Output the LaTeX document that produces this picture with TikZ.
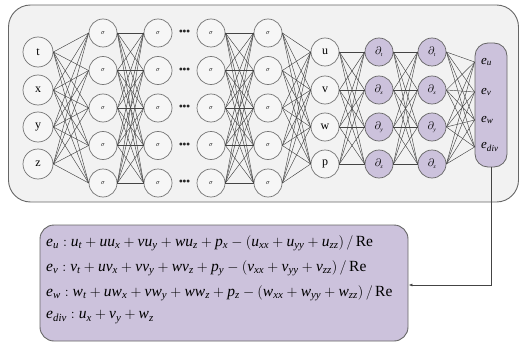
\documentclass[tikz,border=0pt]{standalone}
\usepackage{fontspec}
\setmainfont{Liberation Serif}
\usetikzlibrary{arrows.meta}
\definecolor{bgc}{HTML}{F2F2F2}
\definecolor{circf}{HTML}{F6F6F6}
\definecolor{purp}{HTML}{CCC2DC}
\definecolor{edgec}{HTML}{666666}
\definecolor{linec}{HTML}{444444}
\tikzset{
  neuron/.style={circle, draw=edgec!90, line width=0.7pt, fill=circf, minimum size=#1, inner sep=0pt},
  neuron/.default=28pt,
  pneuron/.style={circle, draw=edgec, line width=0.7pt, fill=purp, minimum size=28pt, inner sep=0pt},
  conn/.style={draw=linec, line width=0.45pt},
  sig/.style={font=\fontsize{6}{6}\selectfont},
  lab/.style={font=\fontsize{12}{12}\selectfont},
}
\begin{document}
\begin{tikzpicture}[x=1pt,y=-1pt]
\useasboundingbox (0,0) rectangle (521,342);
% outer box
\node[draw=edgec, line width=0.9pt, fill=bgc, rounded corners=22pt, minimum width=510pt, minimum height=197pt, inner sep=0pt] (outer) at (263.5,103.5) {};
% input layer
\foreach \n/\y in {t/52,x/90,y/127,z/164}
  \node[neuron=30pt, lab] (in-\n) at (38,\y) {\n};
% hidden layers
\foreach \L/\x in {1/103,2/158,3/211,4/268}
  \foreach \i/\y in {1/33,2/70.5,3/108,4/145.5,5/183}
    \node[neuron, sig] (h\L-\i) at (\x,\y) {$\sigma$};
% dots
\foreach \i/\y in {1/33,2/70.5,3/108,4/145.5,5/183}
  \node[font=\fontsize{12}{12}\selectfont, inner sep=0pt, text=black!85] (dots-\i) at (184.5,\y) {\textbullet\kern-0.6pt\textbullet\kern-0.6pt\textbullet};
% output layer
\foreach \n/\y in {u/52,v/90,w/127,p/164}
  \node[neuron, lab] (o-\n) at (325,\y) {\n};
% derivative layers
\foreach \L/\x in {1/379,2/432}
  \foreach \i/\s/\y in {1/t/52,2/x/90,3/y/127,4/z/164}
    \node[pneuron, font=\fontsize{11}{11}\selectfont] (d\L-\i) at (\x,\y) {$\partial_{\scriptscriptstyle\mathit{\s}}$};
% e box
\node[draw=edgec, line width=0.8pt, fill=purp, rounded corners=13pt, minimum width=32pt, minimum height=124pt, inner sep=0pt] (ebox) at (491,105) {};
\foreach \i/\s/\y in {1/u/62,2/v/92,3/w/120,4/div/147}{
  \coordinate (e-\i) at (ebox.west |- 0,\y);
  \node[anchor=west, inner sep=0pt, font=\fontsize{13}{13}\selectfont] (el-\i) at (481,\y) {$\mathit{e_{\s}}$};
}
% connections
\foreach \a in {t,x,y,z}
  \foreach \b in {1,...,5}
    \draw[conn] (in-\a.east) -- (h1-\b.west);
\foreach \a in {1,...,5}
  \foreach \b in {1,...,5}{
    \draw[conn] (h1-\a.east) -- (h2-\b.west);
    \draw[conn] (h3-\a.east) -- (h4-\b.west);
  }
\foreach \a in {1,...,5}
  \foreach \b in {u,v,w,p}
    \draw[conn] (h4-\a.east) -- (o-\b.west);
\foreach \a in {u,v,w,p}
  \foreach \b in {1,...,4}
    \draw[conn] (o-\a.east) -- (d1-\b.west);
\foreach \a in {1,...,4}
  \foreach \b in {1,...,4}{
    \draw[conn] (d1-\a.east) -- (d2-\b.west);
    \draw[conn] (d2-\a.east) -- (e-\b);
  }
% equation box
\node[draw=edgec, line width=0.9pt, fill=purp, rounded corners=14pt, minimum width=368pt, minimum height=116pt, inner sep=0pt] (eqbox) at (224,283) {};
\begin{scope}[every node/.style={anchor=west, inner sep=0pt, font=\fontsize{15.5}{15.5}\selectfont}]
\node (eq1) at (46,243) {$\mathit{e_u : u_t + uu_x + vu_y + wu_z + p_x - (u_{xx} + u_{yy} + u_{zz})\,/\,\mathrm{Re}}$};
\node (eq2) at (46,268) {$\mathit{e_v : v_t + uv_x + vv_y + wv_z + p_y - (v_{xx} + v_{yy} + v_{zz})\,/\,\mathrm{Re}}$};
\node (eq3) at (46,293) {$\mathit{e_w : w_t + uw_x + vw_y + ww_z + p_z - (w_{xx} + w_{yy} + w_{zz})\,/\,\mathrm{Re}}$};
\node (eq4) at (46,317) {$\mathit{e_{div} : u_x + v_y + w_z}$};
\end{scope}
% feedback arrow
\coordinate (bend) at (ebox.south |- 0,285);
\draw[draw=linec, line width=0.8pt, -{Latex[length=4pt,width=3pt]}] (ebox.south) -- (bend) -- (eqbox.east |- bend);
\end{tikzpicture}
\end{document}
